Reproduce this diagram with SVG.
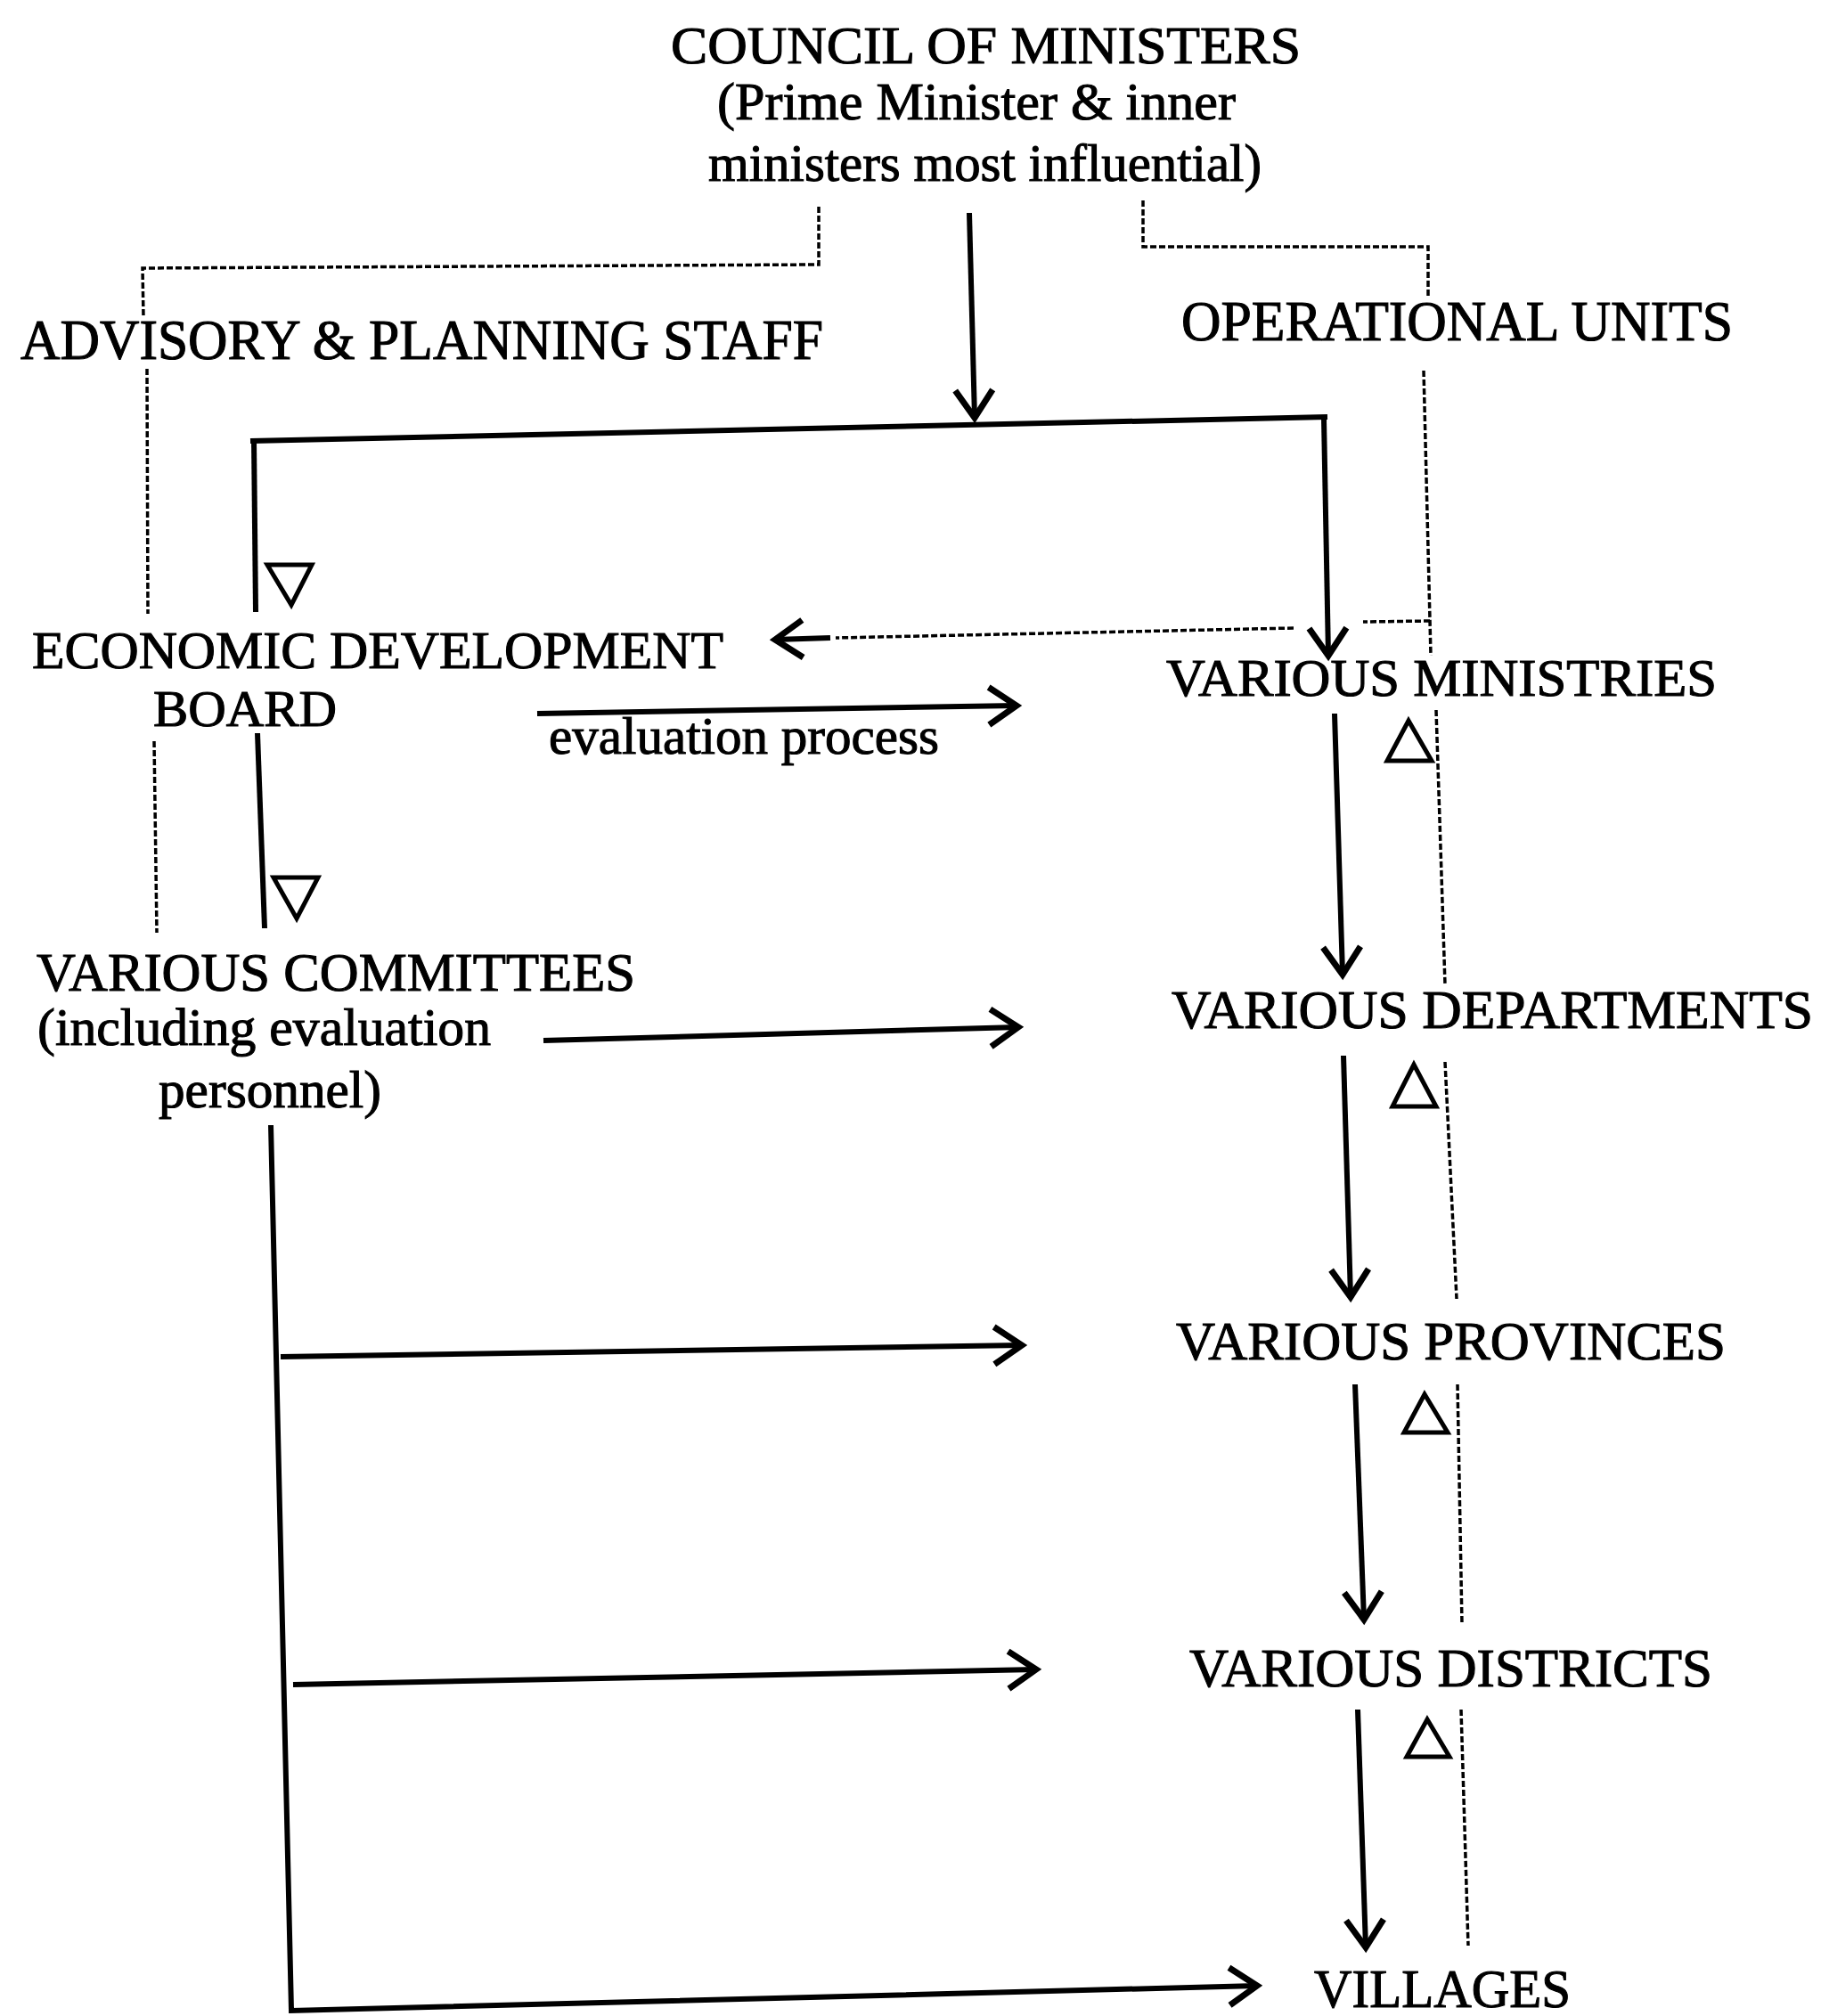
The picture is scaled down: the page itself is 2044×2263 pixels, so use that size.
<svg xmlns="http://www.w3.org/2000/svg" width="2044" height="2263" viewBox="0 0 2044 2263">
<style>
  .t { font-family: "Liberation Serif", "Times New Roman", serif; fill: #000; stroke: #000; stroke-width: 1.1; }
  .solid { fill: none; stroke: #000; stroke-width: 6; stroke-linejoin: miter; }
  .dash { fill: none; stroke: #000; stroke-width: 3.5; stroke-dasharray: 7 3; }
  .tri { fill: none; stroke: #000; stroke-width: 5; stroke-linejoin: miter; }
</style>
<defs>
  <marker id="arr" markerUnits="userSpaceOnUse" markerWidth="50" markerHeight="60" viewBox="-42 -30 50 60" refX="0" refY="0" orient="auto">
    <path d="M-31,-21 L0,0 L-31,21" fill="none" stroke="#000" stroke-width="7" stroke-linejoin="miter"/>
  </marker>
</defs>
<rect width="2044" height="2263" fill="#fff"/>

<g id="connectors">
  <!-- solid hierarchy -->
  <path class="solid" d="M1088,239 L1094,469" marker-end="url(#arr)"/>
  <path class="solid" d="M281,495 L1490,468"/>
  <path class="solid" d="M1486,470 L1491,736" marker-end="url(#arr)"/>
  <path class="solid" d="M285,493 L287,687"/>
  <path class="solid" d="M289,823 L297,1042"/>
  <path class="solid" d="M304,1263 L327,2257 L1411,2229" marker-end="url(#arr)"/>
  <path class="solid" d="M1498,801 L1507,1094" marker-end="url(#arr)"/>
  <path class="solid" d="M1508,1185 L1516,1456" marker-end="url(#arr)"/>
  <path class="solid" d="M1521,1554 L1531,1818" marker-end="url(#arr)"/>
  <path class="solid" d="M1524,1919 L1533,2186" marker-end="url(#arr)"/>
  <!-- horizontal links -->
  <path class="solid" d="M603,801 L1141,792" marker-end="url(#arr)"/>
  <path class="solid" d="M610,1168 L1143,1153" marker-end="url(#arr)"/>
  <path class="solid" d="M315,1523 L1147,1510" marker-end="url(#arr)"/>
  <path class="solid" d="M329,1891 L1163,1874" marker-end="url(#arr)"/>
  <!-- advisory dashed -->
  <path class="dash" d="M919,232 L919,297 L160,301 L161,356"/>
  <path class="dash" d="M165,414 L166,689"/>
  <path class="dash" d="M173,832 L176,1047"/>
  <!-- operational dashed -->
  <path class="dash" d="M1283,225 L1283,277 L1603,277 L1603,333"/>
  <path class="dash" d="M1598,416 L1606,736"/>
  <path class="dash" d="M1605,697 L1530,698"/>
  <path class="dash" d="M1452,705 L938,716"/>
  <path class="solid" d="M932,716 L870,718" marker-end="url(#arr)"/>
  <path class="dash" d="M1612,797 L1622,1105"/>
  <path class="dash" d="M1622,1192 L1635,1458"/>
  <path class="dash" d="M1636,1554 L1641,1823"/>
  <path class="dash" d="M1640,1919 L1648,2184"/>
  <!-- direction triangles -->
  <path class="tri" d="M300,634 L350,634 L327,679 Z"/>
  <path class="tri" d="M307,985 L357,985 L333,1031 Z"/>
  <path class="tri" d="M1557,854 L1607,854 L1581,809 Z"/>
  <path class="tri" d="M1563,1242 L1612,1242 L1587,1195 Z"/>
  <path class="tri" d="M1576,1608 L1625,1608 L1599,1565 Z"/>
  <path class="tri" d="M1579,1972 L1627,1972 L1602,1930 Z"/>
</g>

<g id="council">
  <text class="t" x="753" y="71" font-size="60" textLength="707" lengthAdjust="spacingAndGlyphs">COUNCIL OF MINISTERS</text>
  <text class="t" x="805" y="134" font-size="60" textLength="582" lengthAdjust="spacingAndGlyphs">(Prime Minister &amp; inner</text>
  <text class="t" x="795" y="203" font-size="60" textLength="621" lengthAdjust="spacingAndGlyphs">ministers most influential)</text>
</g>
<g id="advisory">
  <text class="t" x="23" y="403" font-size="64" textLength="901" lengthAdjust="spacingAndGlyphs">ADVISORY &amp; PLANNING STAFF</text>
</g>
<g id="operational">
  <text class="t" x="1326" y="382" font-size="63" textLength="619" lengthAdjust="spacingAndGlyphs">OPERATIONAL UNITS</text>
</g>
<g id="edb">
  <text class="t" x="36" y="750" font-size="60" textLength="776" lengthAdjust="spacingAndGlyphs">ECONOMIC DEVELOPMENT</text>
  <text class="t" x="172" y="815" font-size="58" textLength="206" lengthAdjust="spacingAndGlyphs">BOARD</text>
</g>
<g id="evaluation-label">
  <text class="t" x="616" y="846" font-size="60" textLength="438" lengthAdjust="spacingAndGlyphs">evaluation process</text>
</g>
<g id="ministries">
  <text class="t" x="1309" y="781" font-size="60" textLength="618" lengthAdjust="spacingAndGlyphs">VARIOUS MINISTRIES</text>
</g>
<g id="committees">
  <text class="t" x="41" y="1112" font-size="62" textLength="672" lengthAdjust="spacingAndGlyphs">VARIOUS COMMITTEES</text>
  <text class="t" x="42" y="1173" font-size="60" textLength="509" lengthAdjust="spacingAndGlyphs">(including evaluation</text>
  <text class="t" x="178" y="1243" font-size="60" textLength="250" lengthAdjust="spacingAndGlyphs">personnel)</text>
</g>
<g id="departments">
  <text class="t" x="1315" y="1154" font-size="62" textLength="720" lengthAdjust="spacingAndGlyphs">VARIOUS DEPARTMENTS</text>
</g>
<g id="provinces">
  <text class="t" x="1320" y="1526" font-size="62" textLength="617" lengthAdjust="spacingAndGlyphs">VARIOUS PROVINCES</text>
</g>
<g id="districts">
  <text class="t" x="1335" y="1893" font-size="62" textLength="587" lengthAdjust="spacingAndGlyphs">VARIOUS DISTRICTS</text>
</g>
<g id="villages">
  <text class="t" x="1475" y="2253" font-size="62" textLength="288" lengthAdjust="spacingAndGlyphs">VILLAGES</text>
</g>
</svg>
